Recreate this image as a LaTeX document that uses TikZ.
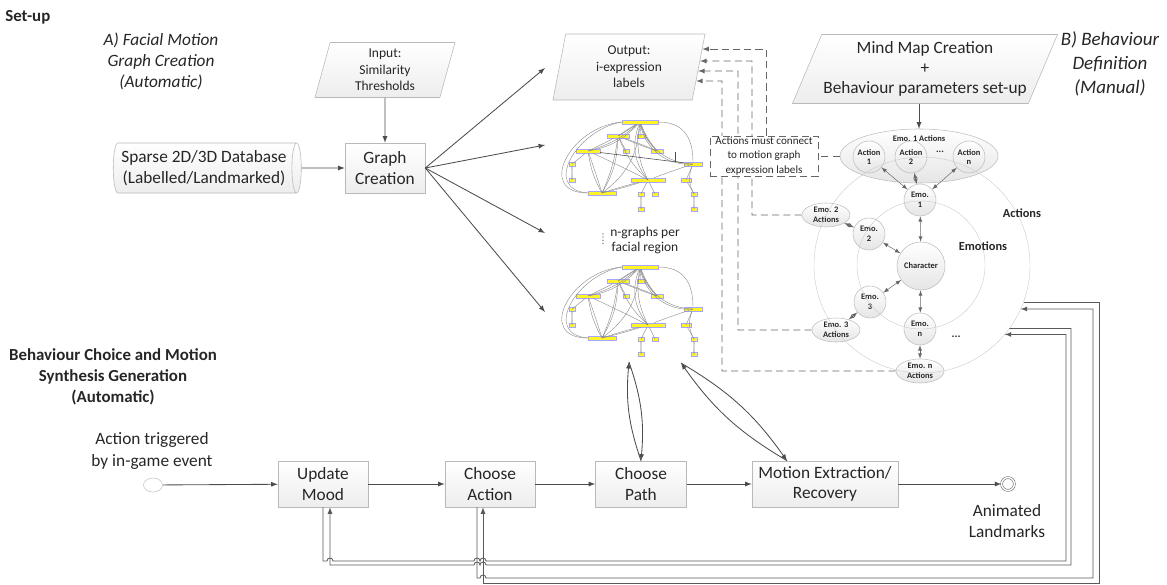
\documentclass[tikz,border=0pt]{standalone}
\usepackage{fontspec}
\setmainfont{Carlito}
\usepackage{tikz}
\usetikzlibrary{calc,shapes.geometric,positioning}

\tikzset{
  gnode/.style = {rectangle, fill=yellow!85!white, draw=blue!35,
                  line width=0.2pt, inner sep=0pt, minimum height=0.11cm},
  gedge/.style = {draw=black!45, line width=0.3pt},
  facegraph/.pic = {
    \foreach \n/\x/\y/\w in {0/0/0/36, 1/-22/14/22, 2/1/14/8, 3/-52/29/24, 4/-14/29/6,
        5/17/29/12, 6/53/42/18, 7/-68/42/6, 8/-68/58/6, 9/8/58/34, 10/46/58/10,
        11/-38/71/28, 12/1/72/6, 13/15/72/6, 14/54/72/6, 15/1/87/6, 16/54/87/6}
      \node[gnode, minimum width=\w*0.025cm] (n\n) at (\x,\y) {};
    \foreach \a/\b/\c in {0/1/2, 0/1/-2, 0/2/1, 0/3/12, 0/3/18, 0/5/-8, 0/5/-14, 0/9/-18, 0/9/-30,
        0/6/-35, 0/6/-42, 0/11/25, 1/3/1, 1/4/1, 1/5/2, 1/5/-2, 1/9/-12, 1/11/8, 1/11/14,
        3/7/1, 7/8/3, 7/8/-3, 3/11/1, 3/11/-10, 3/9/1, 9/11/2, 9/11/-2, 9/6/1, 9/12/1,
        9/13/1, 12/15/3, 12/15/-3, 6/10/1, 10/14/1, 14/16/3, 14/16/-3, 6/14/-25}
      \draw[gedge] (n\a) to[bend left=\c] (n\b);
    \draw[gedge] (n0.west) to[out=185, in=180, looseness=1.7] (n11.west);
    \draw[gedge] (n0.west) to[out=190, in=175, looseness=1.5] (n11.west);
    \draw[gedge] (n0.east) to[out=0, in=90, looseness=1.2] (n6.north);
  }
}

\begin{document}
\begin{tikzpicture}[x=0.025cm, y=-0.025cm, >=latex,
    every node/.style = {text=black!85},
    txt/.style = {font=\fontsize{12.3}{15}\selectfont, align=center, inner sep=0pt},
    box/.style = {draw=gray!55, top color=white, bottom color=gray!14, minimum height=1.15cm,
                  align=center, inner sep=1pt, font=\fontsize{12.3}{14.5}\selectfont},
    para/.style = {draw=gray!55, top color=white, bottom color=gray!14, trapezium,
                   trapezium stretches body, align=center, inner sep=0pt},
    flow/.style = {->, draw=black!70, line width=0.6pt},
    dedge/.style = {draw=black!60, line width=0.6pt, dash pattern=on 5pt off 3pt},
    fb/.style = {->, draw=black!65, line width=0.6pt},
    mm/.style = {circle, draw=gray!50, top color=white, bottom color=gray!20, inner sep=0pt,
                 minimum size=0.8cm, align=center, font=\fontsize{6}{7}\bfseries},
    mmact/.style = {ellipse, draw=gray!50, top color=white, bottom color=gray!20, inner sep=0pt,
                    minimum width=1.2cm, minimum height=0.6cm, align=center, font=\fontsize{6}{7}\bfseries},
    ring/.style = {circle, draw=gray!40, line width=0.3pt, inner sep=0pt, outer sep=0pt},
    marrow/.style = {<->, draw=black!60, line width=0.35pt}]
  \useasboundingbox (0,0) rectangle (1167,585);

  % set-up: facial motion graphs
  \node[txt, anchor=west, font=\fontsize{12}{15}\bfseries] (setup) at (5,17) {Set-up};
  \node[txt, font=\fontsize{12.3}{15}\itshape] (lblA) at (161,61) {A) Facial Motion\\Graph Creation\\(Automatic)};
  \node[para, trapezium left angle=70, trapezium right angle=110, minimum width=3.5cm,
        minimum height=1.375cm, font=\fontsize{9.6}{11.7}\selectfont] (input) at (385,70) {Input:\\Similarity\\Thresholds};
  \node[box, minimum width=2cm, minimum height=1.25cm] (gcreate) at (385,168) {Graph\\Creation};
  \node[cylinder, shape aspect=0.25, draw=gray!55, top color=white, bottom color=gray!14,
        minimum height=4.7cm, minimum width=1.25cm, align=center, inner sep=1pt,
        font=\fontsize{12.3}{14.5}\selectfont] (db) at (204,168) {Sparse 2D/3D Database\\(Labelled/Landmarked)};
  \draw[flow] (db) -- (gcreate);
  \draw[flow] (input) -- (gcreate);

  \node[para, trapezium left angle=73, trapezium right angle=107, minimum width=3.8cm,
        minimum height=1.65cm, font=\fontsize{9.6}{11.7}\selectfont] (out) at (629,67) {Output:\\i-expression\\labels};
  \pic (g1) at (640,122) {facegraph};
  \pic (g2) at (640,267) {facegraph};
  \draw[black!70, line width=0.4pt] (g1n3) -- (g1n6);
  \draw[black!70, line width=0.6pt] (675,152) -- (675,162);
  \node[txt, font=\fontsize{9.6}{10.7}\selectfont] (ngraphs) at (645,240) {n-graphs per\\facial region};
  \draw[black!80, line width=0.9pt, line cap=round, dash pattern=on 0pt off 2.2pt] (603,234) -- (603,244);
  \foreach \y [count=\i] in {68, 145, 233, 312}
    \coordinate (fan\i) at (545,\y);
  \foreach \i in {1,...,4}
    \draw[flow] (gcreate.east) -- (fan\i);

  % behaviour definition: mind map
  \node[para, trapezium left angle=62, trapezium right angle=118, minimum width=6.625cm,
        minimum height=1.725cm, font=\fontsize{12.3}{14.3}\selectfont] (mindmap) at (925,69) {Mind Map Creation\\+\\Behaviour parameters set-up};
  \node[txt, font=\fontsize{13.5}{17}\itshape] (lblB) at (1110,64) {B) Behaviour\\Definition\\(Manual)};
  \node[mmact, minimum width=3.95cm, minimum height=1.35cm,
        label={[anchor=north, yshift=-1pt, font=\fontsize{6}{7}\bfseries]north:Emo. 1 Actions}] (emo1act) at (919,156) {};
  \node[mm] (act1) at (869,157) {Action\\1};
  \node[mm] (act2) at (911,157) {Action\\2};
  \node[mm] (actn) at (969,157) {Action\\n};
  \node[font=\fontsize{7}{7}\bfseries] (adots) at (940,152) {...};
  \node[mm, minimum size=1.2cm] (char) at (921,266) {Character};
  \node[mm] (emo1) at (920,200) {Emo.\\1};
  \node[mm] (emo2) at (869,234) {Emo.\\2};
  \node[mm] (emo3) at (870,302) {Emo.\\3};
  \node[mm] (emon) at (920,329) {Emo.\\n};
  \node[mmact] (emo2act) at (826,215) {Emo. 2\\Actions};
  \node[mmact] (emo3act) at (836,330) {Emo. 3\\Actions};
  \node[mmact] (emonact) at (920,371) {Emo. n\\Actions};
  \node[ring, minimum size=5.4cm] (actring) at (922,265) {};
  \node[ring, minimum size=3.2cm] (emoring) at (921,265) {};
  \node[font=\fontsize{8.8}{10}\bfseries] (lblact) at (1022,213) {Actions};
  \node[font=\fontsize{8.8}{10}\bfseries] (lblemo) at (983,246) {Emotions};
  \node[font=\fontsize{8}{8}\bfseries] (rdots) at (956,337) {...};
  \draw[flow] (emo1act.north |- mindmap.south) -- (emo1act);
  \foreach \a/\b in {act1/emo1, act2/emo1, actn/emo1, emo1/char, emo2/char, emo3/char,
                     emon/char, emo2act/emo2, emo3act/emo3, emonact/emon}
    \draw[marrow] (\a) -- (\b);

  % actions must match the expression labels
  \foreach \f [count=\i] in {0.77, 0.59, 0.44, 0.29}
    \coordinate (o\i) at ($(out.bottom right corner)!\f!(out.top right corner)$);
  \draw[dedge,->] (emo2act.west) -| (752,61) -- (o2);
  \draw[dedge,->] (emo3act.west) -| (738,71) -- (o3);
  \draw[dedge,->] (emonact.west) -| (722,81) -- (o4);
  \node[draw=black!60, dash pattern=on 5pt off 3pt, fill=white, minimum width=2.7cm,
        minimum height=1cm, inner sep=1pt, align=center, font=\fontsize{7.9}{10}\selectfont] (note) at (764,156) {Actions must connect\\to motion graph\\expression labels};
  \draw[dedge,->] ([xshift=0.05cm]note.north) |- (o1);
  \draw[dedge] (emo1act) -- (note);

  % behaviour choice and motion synthesis
  \node[txt, font=\fontsize{12}{15}\bfseries] (lblC) at (113,377) {Behaviour Choice and Motion\\Synthesis Generation\\(Automatic)};
  \node[txt] (trig) at (152,451) {Action triggered\\by in-game event};
  \node[ellipse, draw=gray!45, fill=white, minimum width=0.475cm, minimum height=0.35cm, inner sep=0pt] (startev) at (153,485) {};
  \node[box, minimum width=2.25cm] (mood) at (323,484) {Update\\Mood};
  \node[box, minimum width=2.25cm] (act) at (490,484) {Choose\\Action};
  \node[box, minimum width=2.275cm] (cpath) at (641,484) {Choose\\Path};
  \node[box, minimum width=3.65cm] (mot) at (825,484) {Motion Extraction/\\Recovery};
  \node[circle, draw=black!60, double=white, double distance=1pt, minimum size=0.32cm, inner sep=0pt] (finish) at (1008,484) {};
  \node[txt] (finlbl) at (1007,521) {Animated\\Landmarks};
  \foreach \a/\b in {startev/mood, mood/act, act/cpath, cpath/mot, mot/finish}
    \draw[flow] (\a) -- (\b);

  \coordinate (gp) at (629,362);
  \coordinate (gm) at (681,363);
  \coordinate (mt) at ([xshift=-0.95cm]mot.north);
  \draw[flow] (cpath.north) to[bend left=12] (gp);
  \draw[flow] (gp) to[bend left=12] (cpath.north);
  \draw[flow] (gm) to[bend left=12] (mt);
  \draw[flow] (mt) to[bend left=12] (gm);

  % feedback to and from the mind map
  \draw[fb] (mood.south) -- (323,561) -- (327,561) arc[start angle=180, end angle=0, radius=0.075cm]
    -- (474,561) arc[start angle=180, end angle=0, radius=0.075cm] arc[start angle=180, end angle=0, radius=0.075cm]
    -- (1066,561) |- (actring.-40);
  \draw[fb] (actring.-36) -| (1071,565) -- (486,565) arc[start angle=0, end angle=180, radius=0.075cm]
    arc[start angle=0, end angle=180, radius=0.075cm] -- (330,565) -- ([xshift=0.175cm]mood.south);
  \draw[fb] ([xshift=-0.325cm]act.south) -- (477,578) -- (480,578) arc[start angle=180, end angle=0, radius=0.075cm]
    -- (1093,578) |- (actring.-24);
  \draw[fb] (actring.-20) -| (1099,583) -| ([xshift=-0.175cm]act.south);
\end{tikzpicture}
\end{document}
